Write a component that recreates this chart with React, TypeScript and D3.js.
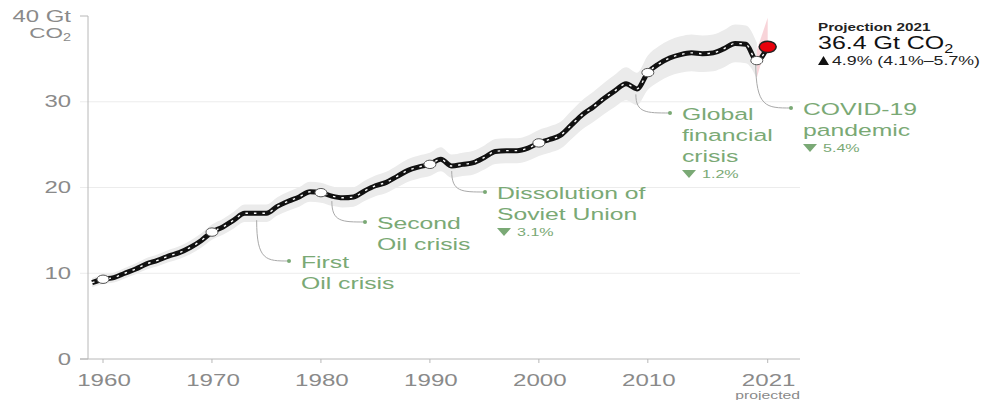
import React from "react";
import * as d3 from "d3";

// ---------- DATA ----------
const years = [
  1959, 1960, 1961, 1962, 1963, 1964, 1965, 1966, 1967, 1968, 1969,
  1970, 1971, 1972, 1973, 1974, 1975, 1976, 1977, 1978, 1979,
  1980, 1981, 1982, 1983, 1984, 1985, 1986, 1987, 1988, 1989,
  1990, 1991, 1992, 1993, 1994, 1995, 1996, 1997, 1998, 1999,
  2000, 2001, 2002, 2003, 2004, 2005, 2006, 2007, 2008, 2009,
  2010, 2011, 2012, 2013, 2014, 2015, 2016, 2017, 2018, 2019,
  2020, 2021,
];
const emissions = [
  8.9, 9.3, 9.5, 10.0, 10.5, 11.1, 11.5, 12.0, 12.4, 13.0, 13.8,
  14.8, 15.4, 16.2, 17.0, 17.0, 17.0, 17.8, 18.4, 18.9, 19.5,
  19.4, 19.0, 18.8, 18.9, 19.6, 20.2, 20.6, 21.3, 22.0, 22.4,
  22.7, 23.3, 22.5, 22.7, 22.9, 23.5, 24.2, 24.3, 24.3, 24.6,
  25.2, 25.6, 26.1, 27.3, 28.5, 29.4, 30.4, 31.3, 32.1, 31.5,
  33.4, 34.4, 35.1, 35.5, 35.7, 35.6, 35.7, 36.2, 36.8, 36.7,
  34.8, 36.4,
];
const uncertainty = 0.06; // +/- share of value for the grey band
const markerYears = [1960, 1970, 1980, 1990, 2000, 2010, 2020];
const projectionYear = 2021;
const projectionRange = [[2020, 32.8, 36.0], [2021, 37.2, 39.8]]; // [year, low, high]
const xTickValues = [1960, 1970, 1980, 1990, 2000, 2010, 2021];
const xTickLabels = ["1960", "1970", "1980", "1990", "2000", "2010", "2021"];
const yTickValues = [0, 10, 20, 30, 40];
const yTickLabels = ["0", "10", "20", "30", "40 Gt"];

const eventNames = [
  ["First", "Oil crisis"],
  ["Second", "Oil crisis"],
  ["Dissolution of", "Soviet Union"],
  ["Global", "financial", "crisis"],
  ["COVID-19", "pandemic"],
];
const eventYears = [1974.1, 1981.0, 1992.0, 2008.9, 2019.9];
const eventDrops = ["", "", "3.1%", "1.2%", "5.4%"];

const projTitle = "Projection 2021";
const projValue = "36.4 Gt CO";
const projChange = "4.9% (4.1%–5.7%)";

// ---------- LAYOUT ----------
const W = 985;
const H = 400;
const SX = 1.45; // horizontal stretch of text in reference
const FONT = "'Liberation Sans', Arial, Helvetica, sans-serif";
const GREY = "#8a8a8a";
const GREEN = "#7aa975";
const AXIS = "#b8b8b8";

// label dot positions (px) for each event annotation
const eventDots = [
  [289, 261],
  [365, 222],
  [485, 192],
  [670, 113],
  [791, 108],
];
const eventStartOffset = [7, 5, 5, 6, 3];

function T({ x, y, sx = SX, anchor = "start", size, fill, weight, children }: any) {
  return (
    <text
      transform={`translate(${x},${y}) scale(${sx},1)`}
      textAnchor={anchor}
      fontSize={size}
      fill={fill}
      fontWeight={weight}
      fontFamily={FONT}
    >
      {children}
    </text>
  );
}

export default function App() {
  const x = d3.scaleLinear().domain([1960, 2021]).range([103, 767.7]);
  const y = d3.scaleLinear().domain([0, 40]).range([359, 16]);

  const pts = years.map((yr, i) => ({ yr, v: emissions[i] }));
  const hist = pts.filter((p) => p.yr <= 2020);

  const line = d3
    .line<any>()
    .x((d) => x(d.yr))
    .y((d) => y(d.v))
    .curve(d3.curveMonotoneX);

  const band = d3
    .area<any>()
    .x((d) => x(d.yr))
    .y0((d) => y(d.v * (1 - uncertainty)))
    .y1((d) => y(d.v * (1 + uncertainty)))
    .curve(d3.curveMonotoneX);

  const proj = projectionRange;
  const projPoly = [
    [x(proj[0][0]), y(proj[0][1])],
    [x(proj[0][0]), y(proj[0][2])],
    [x(proj[1][0]), y(proj[1][2])],
    [x(proj[1][0]), y(proj[1][1])],
  ]
    .map((p) => p.join(","))
    .join(" ");

  const valAt = (yr: number) => {
    const i = d3.bisector((d: any) => d.yr).left(pts, yr);
    if (i <= 0) return pts[0].v;
    const a = pts[i - 1], b = pts[i] || a;
    const t = b.yr === a.yr ? 0 : (yr - a.yr) / (b.yr - a.yr);
    return a.v + (b.v - a.v) * t;
  };

  const projPt = pts.find((p) => p.yr === projectionYear)!;

  return (
    <svg
      width={W}
      height={H}
      style={{ position: "absolute", left: 0, top: 0, background: "#fff" }}
      fontFamily={FONT}
    >
      {/* grid */}
      {yTickValues.map((v) => (
        <line
          key={"g" + v}
          x1={80}
          x2={v === 0 || v === 40 ? 88 : 800}
          y1={y(v)}
          y2={y(v)}
          stroke={v === 0 || v === 40 ? AXIS : "#ececec"}
          strokeWidth={1}
        />
      ))}
      {/* axes */}
      <line x1={88} x2={88} y1={y(40)} y2={y(0)} stroke={AXIS} />
      <line x1={80} x2={800} y1={y(0)} y2={y(0)} stroke={AXIS} />
      {xTickValues.map((v) => (
        <line key={"xt" + v} x1={x(v)} x2={x(v)} y1={y(0)} y2={y(0) + 4} stroke={AXIS} />
      ))}
      {/* y labels */}
      {yTickValues.map((v, i) => (
        <T key={"yl" + v} x={71} y={y(v) + 5.5} anchor="end" size={16.5} fill={GREY}>
          {yTickLabels[i]}
        </T>
      ))}
      <T x={71} y={38} anchor="end" size={15.5} fill={GREY}>
        CO<tspan fontSize={10} dy={3}>2</tspan>
      </T>
      {/* x labels */}
      {xTickValues.map((v, i) => (
        <T key={"xl" + v} x={x(v) + 1} y={386} anchor="middle" size={17} sx={1.42} fill={GREY}>
          {xTickLabels[i]}
        </T>
      ))}
      <T x={x(2021)} y={398.5} anchor="middle" size={10.5} sx={1.5} fill={GREY}>
        projected
      </T>

      {/* uncertainty band */}
      <path d={band(hist) || ""} fill="#ebebeb" />
      <polygon points={projPoly} fill="#f6c9cf" opacity={0.8} />

      {/* leader lines */}
      {eventYears.map((yr, i) => {
        const sx0 = x(yr);
        const sy0 = y(valAt(yr)) + eventStartOffset[i];
        const [dx, dy] = eventDots[i];
        const d = `M${sx0},${sy0} C${sx0},${dy} ${sx0 + (dx - sx0) * 0.3},${dy} ${dx},${dy}`;
        return <path key={"ld" + i} d={d} fill="none" stroke="#a9a9a9" strokeWidth={1} />;
      })}

      {/* main line */}
      <path d={line(pts) || ""} fill="none" stroke="#111" strokeWidth={5} strokeLinejoin="round" />
      <path
        d={line(pts) || ""}
        fill="none"
        stroke="#fff"
        strokeWidth={1.4}
        strokeDasharray="2.5 6"
      />
      {markerYears.map((yr) => {
        const p = pts.find((q) => q.yr === yr)!;
        return (
          <ellipse
            key={"m" + yr}
            cx={x(p.yr)}
            cy={y(p.v)}
            rx={6}
            ry={4.2}
            fill="#fff"
            stroke="#555"
            strokeWidth={1}
          />
        );
      })}
      <ellipse
        cx={x(projPt.yr)}
        cy={y(projPt.v)}
        rx={8.5}
        ry={5.6}
        fill="#e8000b"
        stroke="#222"
        strokeWidth={1.5}
      />

      {/* event annotations */}
      {eventNames.map((lines, i) => {
        const [dx, dy] = eventDots[i];
        const tx = dx + 12;
        const base = dy + 7;
        return (
          <g key={"ev" + i}>
            <circle cx={dx} cy={dy} r={2} fill={GREEN} />
            {lines.map((s, j) => (
              <T key={j} x={tx} y={base + j * 21} size={16.5} sx={1.5} fill={GREEN}>
                {s}
              </T>
            ))}
            {eventDrops[i] && (
              <g>
                <path
                  d={`M${tx},${base + lines.length * 21 - 13} l14,0 l-7,8 z`}
                  fill={GREEN}
                />
                <T x={tx + 20} y={base + lines.length * 21 - 5} size={11.5} sx={1.4} fill={GREEN}>
                  {eventDrops[i]}
                </T>
              </g>
            )}
          </g>
        );
      })}

      {/* projection label */}
      <T x={818} y={31} size={10.5} sx={1.45} fill="#222" weight={600}>
        {projTitle}
      </T>
      <T x={818} y={48.5} size={18.5} sx={1.35} fill="#111">
        {projValue}
        <tspan fontSize={12} dy={4}>2</tspan>
      </T>
      <path d="M818,65 l11,0 l-5.5,-9 z" fill="#111" />
      <T x={832} y={65} size={12.5} sx={1.42} fill="#222">
        {projChange}
      </T>
    </svg>
  );
}
